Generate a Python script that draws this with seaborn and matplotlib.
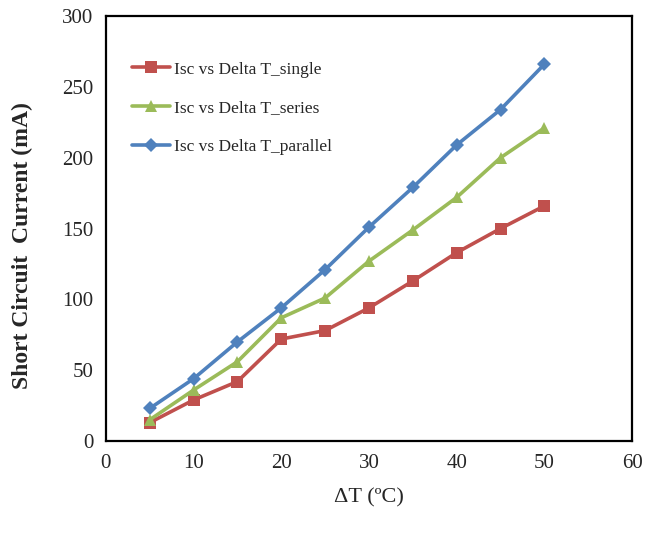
import numpy as np
import pandas as pd
import matplotlib
matplotlib.use("Agg")
import matplotlib.pyplot as plt
import seaborn as sns

delta_t = [5, 10, 15, 20, 25, 30, 35, 40, 45, 50]
isc_single = [13, 29, 42, 72, 78, 94, 113, 133, 150, 166]
isc_series = [15, 36, 56, 87, 101, 127, 149, 172, 200, 221]
isc_parallel = [23, 44, 70, 94, 121, 151, 179, 209, 234, 266]
series_names = ["Isc vs Delta T_single", "Isc vs Delta T_series", "Isc vs Delta T_parallel"]

df = pd.DataFrame({
    "dT": delta_t * 3,
    "Isc": isc_single + isc_series + isc_parallel,
    "Series": np.repeat(series_names, len(delta_t)),
})

sns.set_style("white")
plt.rcParams["font.family"] = ["Liberation Serif", "DejaVu Serif"]

fig = plt.figure(figsize=(6.49, 5.34), dpi=100)
ax = fig.add_axes([0.163, 0.174, 0.811, 0.796])

palette = {series_names[0]: "#C0504D", series_names[1]: "#9BBB59", series_names[2]: "#4F81BD"}
markers = {series_names[0]: "s", series_names[1]: "^", series_names[2]: "D"}
sizes = {series_names[0]: 9, series_names[1]: 9, series_names[2]: 7}

for name in series_names:
    sub = df[df["Series"] == name]
    sns.lineplot(data=sub, x="dT", y="Isc", ax=ax, color=palette[name],
                 marker=markers[name], markersize=sizes[name], markeredgewidth=0,
                 linewidth=2.6, label=name)

ax.set_xlim(0, 60)
ax.set_ylim(0, 300)
ax.set_xticks(range(0, 61, 10))
ax.set_yticks(range(0, 301, 50))
ax.tick_params(direction="in", length=3, width=0.8, labelsize=15, pad=9)
for s in ax.spines.values():
    s.set_color("black")
    s.set_linewidth(1.6)

ax.set_xlabel("ΔT (ºC)", fontsize=16, labelpad=11)
ax.set_ylabel("Short Circuit  Current (mA)", fontsize=17, fontweight="bold")
ax.yaxis.set_label_coords(-0.138, 0.46)

leg = ax.legend(loc="upper left", bbox_to_anchor=(0.02, 0.93), frameon=False,
                fontsize=12.5, handlelength=2.2, handletextpad=0.2, labelspacing=1.3)

fig.savefig("out.png", dpi=100)
